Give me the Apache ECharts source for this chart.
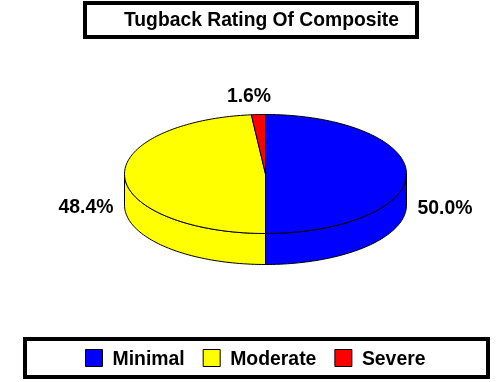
<!DOCTYPE html>
<html><head><meta charset="utf-8">
<style>html,body{margin:0;padding:0;background:#fff}#c{width:501px;height:382px}</style>
<script src="https://cdn.jsdelivr.net/npm/echarts@6/dist/echarts.min.js"></script>
</head><body><div id="c"></div>
<script>
const categories = ['Minimal', 'Moderate', 'Severe'];
const values = [50.0, 48.4, 1.6];
const colors = ['#0000ff', '#ffff00', '#ff0000'];
const chartTitle = 'Tugback Rating Of Composite';

const FONT = '"Liberation Sans", Arial, sans-serif';
const pie = {cx: 265.5, cy: 174, rx: 141, ry: 59.5, depth: 31};
const labelAnchors = [[445, 209], [86, 208], [249, 97]];
const total = values.reduce((a, b) => a + b, 0);

function pt(deg, dy) {
  const t = deg * Math.PI / 180;
  return [pie.cx + pie.rx * Math.sin(t), pie.cy - pie.ry * Math.cos(t) + (dy || 0)];
}
function arc(a, b, dy) {
  const n = Math.max(2, Math.ceil((b - a) / 1.5));
  const out = [];
  for (let i = 0; i <= n; i++) out.push(pt(a + (b - a) * i / n, dy));
  return out;
}
function renderSlice(idx) {
  return function (params, api) {
    const before = values.slice(0, idx).reduce((a, b) => a + b, 0);
    const a = before / total * 360;
    const b = a + api.value(0) / total * 360;
    const style = {fill: colors[idx], stroke: '#000', lineWidth: 1};
    const children = [];
    const sa = Math.max(a, 90), sb = Math.min(b, 270);
    if (sb > sa) {
      children.push({type: 'polygon', shape: {points: arc(sa, sb, 0).concat(arc(sa, sb, pie.depth).reverse())}, style});
    }
    children.push({type: 'polygon', shape: {points: [[pie.cx, pie.cy]].concat(arc(a, b, 0))}, style});
    children.push({type: 'text', style: {
      text: api.value(0).toFixed(1) + '%', x: labelAnchors[idx][0], y: labelAnchors[idx][1],
      align: 'center', verticalAlign: 'middle', fill: '#000', font: 'bold 19.4px ' + FONT}});
    return {type: 'group', children};
  };
}
const legendFont = {fontFamily: FONT, fontWeight: 'bold', fontSize: 19.4, color: '#000'};
const chart = echarts.init(document.getElementById('c'), null, {renderer: 'canvas'});
chart.setOption({
  animation: false,
  backgroundColor: '#fff',
  title: {text: chartTitle, left: 124, top: 11, padding: 0,
    textStyle: {fontFamily: FONT, fontWeight: 'bold', fontSize: 19.3, color: '#000'}},
  legend: {left: 85, top: 349, padding: 0, itemWidth: 17, itemHeight: 17, itemGap: 18, selectedMode: false,
    icon: 'rect', itemStyle: {borderColor: '#000', borderWidth: 1},
    formatter: name => '{t|' + name + '}',
    textStyle: Object.assign({}, legendFont, {rich: {t: Object.assign({}, legendFont, {padding: [4, 0, 0, 5]})}}),
    data: categories},
  graphic: [
    {type: 'rect', silent: true, z: -1, shape: {x: 85, y: 3, width: 332, height: 34}, style: {fill: '#fff', stroke: '#000', lineWidth: 4}},
    {type: 'rect', silent: true, z: -1, shape: {x: 25, y: 339, width: 463, height: 38}, style: {fill: '#fff', stroke: '#000', lineWidth: 4}}
  ],
  series: categories.map((name, i) => ({
    type: 'custom', name, coordinateSystem: 'none', silent: true,
    itemStyle: {color: colors[i]},
    renderItem: renderSlice(i),
    data: [[values[i]]]
  }))
});
</script></body></html>
